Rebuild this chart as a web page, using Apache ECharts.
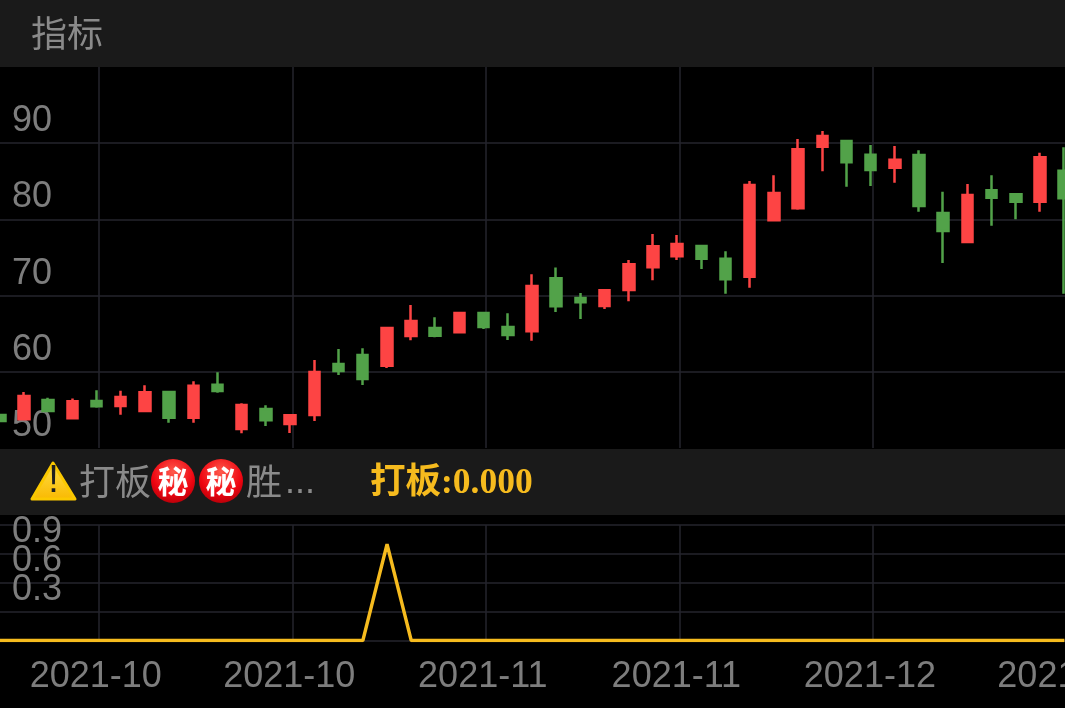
<!DOCTYPE html>
<html>
<head>
<meta charset="utf-8">
<style>
html, body { margin: 0; padding: 0; background: #000; }
#chart { width: 1065px; height: 708px; }
</style>
<script src="https://cdn.jsdelivr.net/npm/echarts@6/dist/echarts.min.js"></script>
</head>
<body>
<div id="chart"></div>
<script>
// first slot is off the left edge: the signal line runs in from there, no candle is visible for it
var months = [
    '2021-10', '2021-10', '2021-10', '2021-10', '2021-10', '2021-10', '2021-10', '2021-10', '2021-10',
    '2021-10', '2021-10', '2021-10', '2021-10', '2021-10', '2021-10', '2021-10', '2021-10',
    '2021-11', '2021-11', '2021-11', '2021-11', '2021-11', '2021-11', '2021-11', '2021-11',
    '2021-11', '2021-11', '2021-11', '2021-11', '2021-11', '2021-11', '2021-11', '2021-11',
    '2021-12', '2021-12', '2021-12', '2021-12', '2021-12', '2021-12', '2021-12', '2021-12',
    '2021-12', '2021-12', '2021-12', '2021-12', '2021-12'
];
var opens = [
    null, 54.33, 53.77, 56.30, 53.90, 56.17, 55.51, 54.86, 57.35, 53.98, 58.31, 52.49, 55.12, 53.15, 54.33, 61.02,
    62.20, 60.80, 64.70, 65.75, 65.18, 67.72, 65.88, 65.31, 72.27, 69.69, 68.64, 70.73, 73.71, 75.16, 76.51,
    74.84, 72.48, 79.88, 81.46, 89.54, 90.29, 88.49, 86.78, 88.45, 80.84, 77.03, 83.82, 83.29, 82.32, 86.39
];
var closes = [
    null, 53.54, 56.82, 54.86, 56.13, 55.47, 56.69, 57.31, 53.98, 58.18, 57.48, 55.64, 53.64, 54.29, 59.97, 60.10,
    59.06, 65.75, 66.67, 64.74, 67.72, 65.88, 64.83, 71.26, 68.60, 69.12, 70.69, 74.10, 76.47, 76.77, 74.84,
    72.14, 84.51, 83.46, 89.20, 90.94, 87.49, 86.48, 87.83, 81.76, 78.48, 83.20, 82.85, 82.32, 88.15, 82.77
];
var lows = [
    null, 53.54, 53.77, 54.86, 53.90, 55.29, 54.37, 54.86, 53.32, 53.32, 57.26, 51.93, 52.89, 51.97, 53.54, 59.58,
    58.27, 60.50, 64.13, 64.53, 65.05, 65.62, 64.17, 64.08, 67.85, 66.93, 68.24, 69.25, 72.00, 74.67, 73.49,
    70.25, 71.04, 79.88, 81.27, 86.31, 84.29, 84.38, 84.82, 81.01, 74.28, 77.03, 79.17, 80.01, 81.01, 70.25
];
var highs = [
    null, 54.33, 57.35, 56.60, 56.50, 57.57, 57.52, 58.23, 57.35, 58.75, 59.93, 55.87, 55.60, 54.33, 61.55, 62.99,
    63.08, 65.75, 68.77, 67.15, 67.72, 67.85, 67.68, 72.80, 73.70, 70.34, 70.69, 74.67, 78.08, 77.95, 76.60,
    75.81, 85.04, 85.79, 90.55, 91.60, 90.29, 89.76, 89.63, 89.07, 83.64, 84.65, 85.79, 83.29, 88.75, 89.46
];
var signal = [
    0, 0, 0, 0, 0, 0, 0, 0, 0, 0, 0, 0, 0, 0, 0, 0,
    0, 1, 0, 0, 0, 0, 0, 0, 0, 0, 0, 0, 0, 0, 0,
    0, 0, 0, 0, 0, 0, 0, 0, 0, 0, 0, 0, 0, 0, 0
];
var priceTicks = [60, 70, 80, 90, 50];
var signalTicks = [0.3, 0.6, 0.9];
var headerTitle = '指标';
var signalName = '打板';
var signalTail = '胜';
var signalDots = '...';
var secretMark = '秘';
var signalReading = '打板:0.000';

var red = '#fd4444';
var green = '#52a249';
var gridColor = '#25252c';
var labelColor = '#7d7d7d';
var panelColor = '#1a1a1a';
var gold = '#f6bb1e';
var sans = '"Liberation Sans", "Noto Sans CJK SC", sans-serif';
var goldFont = '"Liberation Serif", "Noto Sans CJK SC", serif';

var candles = opens.map(function (o, i) {
    return o === null ? ['-', '-', '-', '-'] : [o, closes[i], lows[i], highs[i]];
});

function onTick(index) {
    return (index - 5) % 8 === 0;
}

function chip(x) {
    return [
        {
            type: 'circle', z: 60,
            shape: { cx: x, cy: 481, r: 22 },
            style: {
                fill: {
                    type: 'radial', x: 0.5, y: 0.3, r: 0.75,
                    colorStops: [{ offset: 0, color: '#ff5a4c' }, { offset: 0.65, color: '#ee0410' }, { offset: 1, color: '#b00008' }]
                }
            }
        },
        {
            type: 'text', z: 61,
            x: x, y: 481,
            style: {
                text: secretMark, fill: '#fff', align: 'center', verticalAlign: 'middle',
                font: 'bold 31px "Noto Sans CJK SC"'
            }
        }
    ];
}

// grids 2 and 3 only carry the vertical lines, which sit about 2px right of the candles
function lineAxis(gridIndex) {
    return {
        type: 'category', gridIndex: gridIndex, data: months,
        axisLine: { show: false },
        axisTick: { show: false },
        axisLabel: { show: false },
        splitLine: {
            show: true,
            alignWithLabel: true,
            interval: function (index) { return onTick(index); },
            lineStyle: { color: gridColor, width: 1.5 }
        }
    };
}

var myChart = echarts.init(document.getElementById('chart'));
var option = {
    backgroundColor: '#000',
    animation: false,
    grid: [
        { left: -36.5, top: 67, width: 1112.8, height: 381, outerBoundsMode: 'none' },
        { left: -36.3, top: 525, width: 1112.8, height: 115.5, outerBoundsMode: 'none' },
        { left: -34.1, top: 67, width: 1112.8, height: 381, outerBoundsMode: 'none' },
        { left: -34.1, top: 525, width: 1112.8, height: 115.5, outerBoundsMode: 'none' }
    ],
    xAxis: [
        {
            type: 'category', gridIndex: 0, data: months,
            axisLine: { show: false }, axisTick: { show: false }, axisLabel: { show: false }, splitLine: { show: false }
        },
        {
            type: 'category', gridIndex: 1, data: months,
            axisLine: { show: false },
            axisTick: { show: false },
            axisLabel: {
                interval: function (index) { return onTick(index); },
                color: labelColor, fontFamily: sans, fontSize: 36, margin: 19, padding: [0, 2, 0, 0],
                hideOverlap: false
            },
            splitLine: { show: false }
        },
        lineAxis(2),
        lineAxis(3)
    ],
    yAxis: [
        {
            type: 'value', gridIndex: 0, min: 50, max: 100, interval: 10,
            axisLine: { show: false }, axisTick: { show: false },
            axisLabel: {
                inside: true, margin: 48.5, color: labelColor, fontFamily: sans, fontSize: 36,
                verticalAlign: 'bottom', padding: [0, 0, 4, 0],
                showMinLabel: true,
                formatter: function (value) {
                    return priceTicks.indexOf(value) >= 0 ? String(value) : '';
                }
            },
            splitLine: { show: true, showMinLine: false, showMaxLine: false, lineStyle: { color: gridColor, width: 1.5 } }
        },
        {
            type: 'value', gridIndex: 1, min: 0, max: 1.2, interval: 0.3,
            axisLine: { show: false }, axisTick: { show: false },
            axisLabel: {
                inside: true, margin: 48.3, color: labelColor, fontFamily: sans, fontSize: 36,
                verticalAlign: 'bottom', padding: [0, 0, 3.5, 0],
                formatter: function (value) {
                    return signalTicks.indexOf(value) >= 0 ? value.toFixed(1) : '';
                }
            },
            splitLine: { show: true, lineStyle: { color: gridColor, width: 1.5 } }
        },
        { type: 'value', gridIndex: 2, min: 50, max: 100, show: false },
        { type: 'value', gridIndex: 3, min: 0, max: 1.2, show: false }
    ],
    series: [
        {
            type: 'candlestick',
            xAxisIndex: 0,
            yAxisIndex: 0,
            barWidth: 11,
            data: candles,
            itemStyle: { color: red, borderColor: red, color0: green, borderColor0: green, borderWidth: 2.5 }
        },
        {
            type: 'line',
            xAxisIndex: 1,
            yAxisIndex: 1,
            data: signal,
            symbol: 'none',
            lineStyle: { color: gold, width: 3.4 }
        }
    ],
    graphic: [
        { type: 'rect', z: 50, shape: { x: 0, y: 0, width: 1065, height: 67 }, style: { fill: panelColor } },
        { type: 'rect', z: 50, shape: { x: 0, y: 449, width: 1065, height: 66 }, style: { fill: panelColor } },
        {
            type: 'text', z: 60, x: 31, y: 33,
            style: { text: headerTitle, fill: '#8a8a8a', verticalAlign: 'middle', font: '36px "Noto Sans CJK SC"' }
        },
        {
            type: 'polygon', z: 60,
            shape: { points: [[53, 463], [75, 499], [32, 499]] },
            style: {
                fill: { type: 'linear', x: 0, y: 0, x2: 0, y2: 1, colorStops: [{ offset: 0, color: '#ffe14a' }, { offset: 1, color: '#f9b800' }] },
                stroke: '#fbc800', lineWidth: 3, lineJoin: 'round'
            }
        },
        {
            type: 'text', z: 61, x: 53.5, y: 482,
            style: { text: '!', fill: '#1f1f1f', align: 'center', verticalAlign: 'middle', font: '38px "Liberation Sans"' }
        },
        {
            type: 'text', z: 60, x: 79, y: 481,
            style: { text: signalName, fill: '#8a8a8a', verticalAlign: 'middle', font: '36px "Noto Sans CJK SC"' }
        }
    ].concat(chip(173), chip(221), [
        {
            type: 'text', z: 60, x: 246, y: 481,
            style: { text: signalTail, fill: '#8a8a8a', verticalAlign: 'middle', font: '36px "Noto Sans CJK SC"' }
        },
        {
            type: 'text', z: 60, x: 285, y: 483,
            style: { text: signalDots, fill: '#8a8a8a', verticalAlign: 'middle', font: '36px "Liberation Sans"' }
        },
        {
            type: 'text', z: 60, x: 370, y: 484,
            style: { text: signalReading, fill: gold, verticalAlign: 'middle', font: 'bold 35.5px ' + goldFont }
        }
    ])
};

myChart.setOption(option);
</script>
</body>
</html>
